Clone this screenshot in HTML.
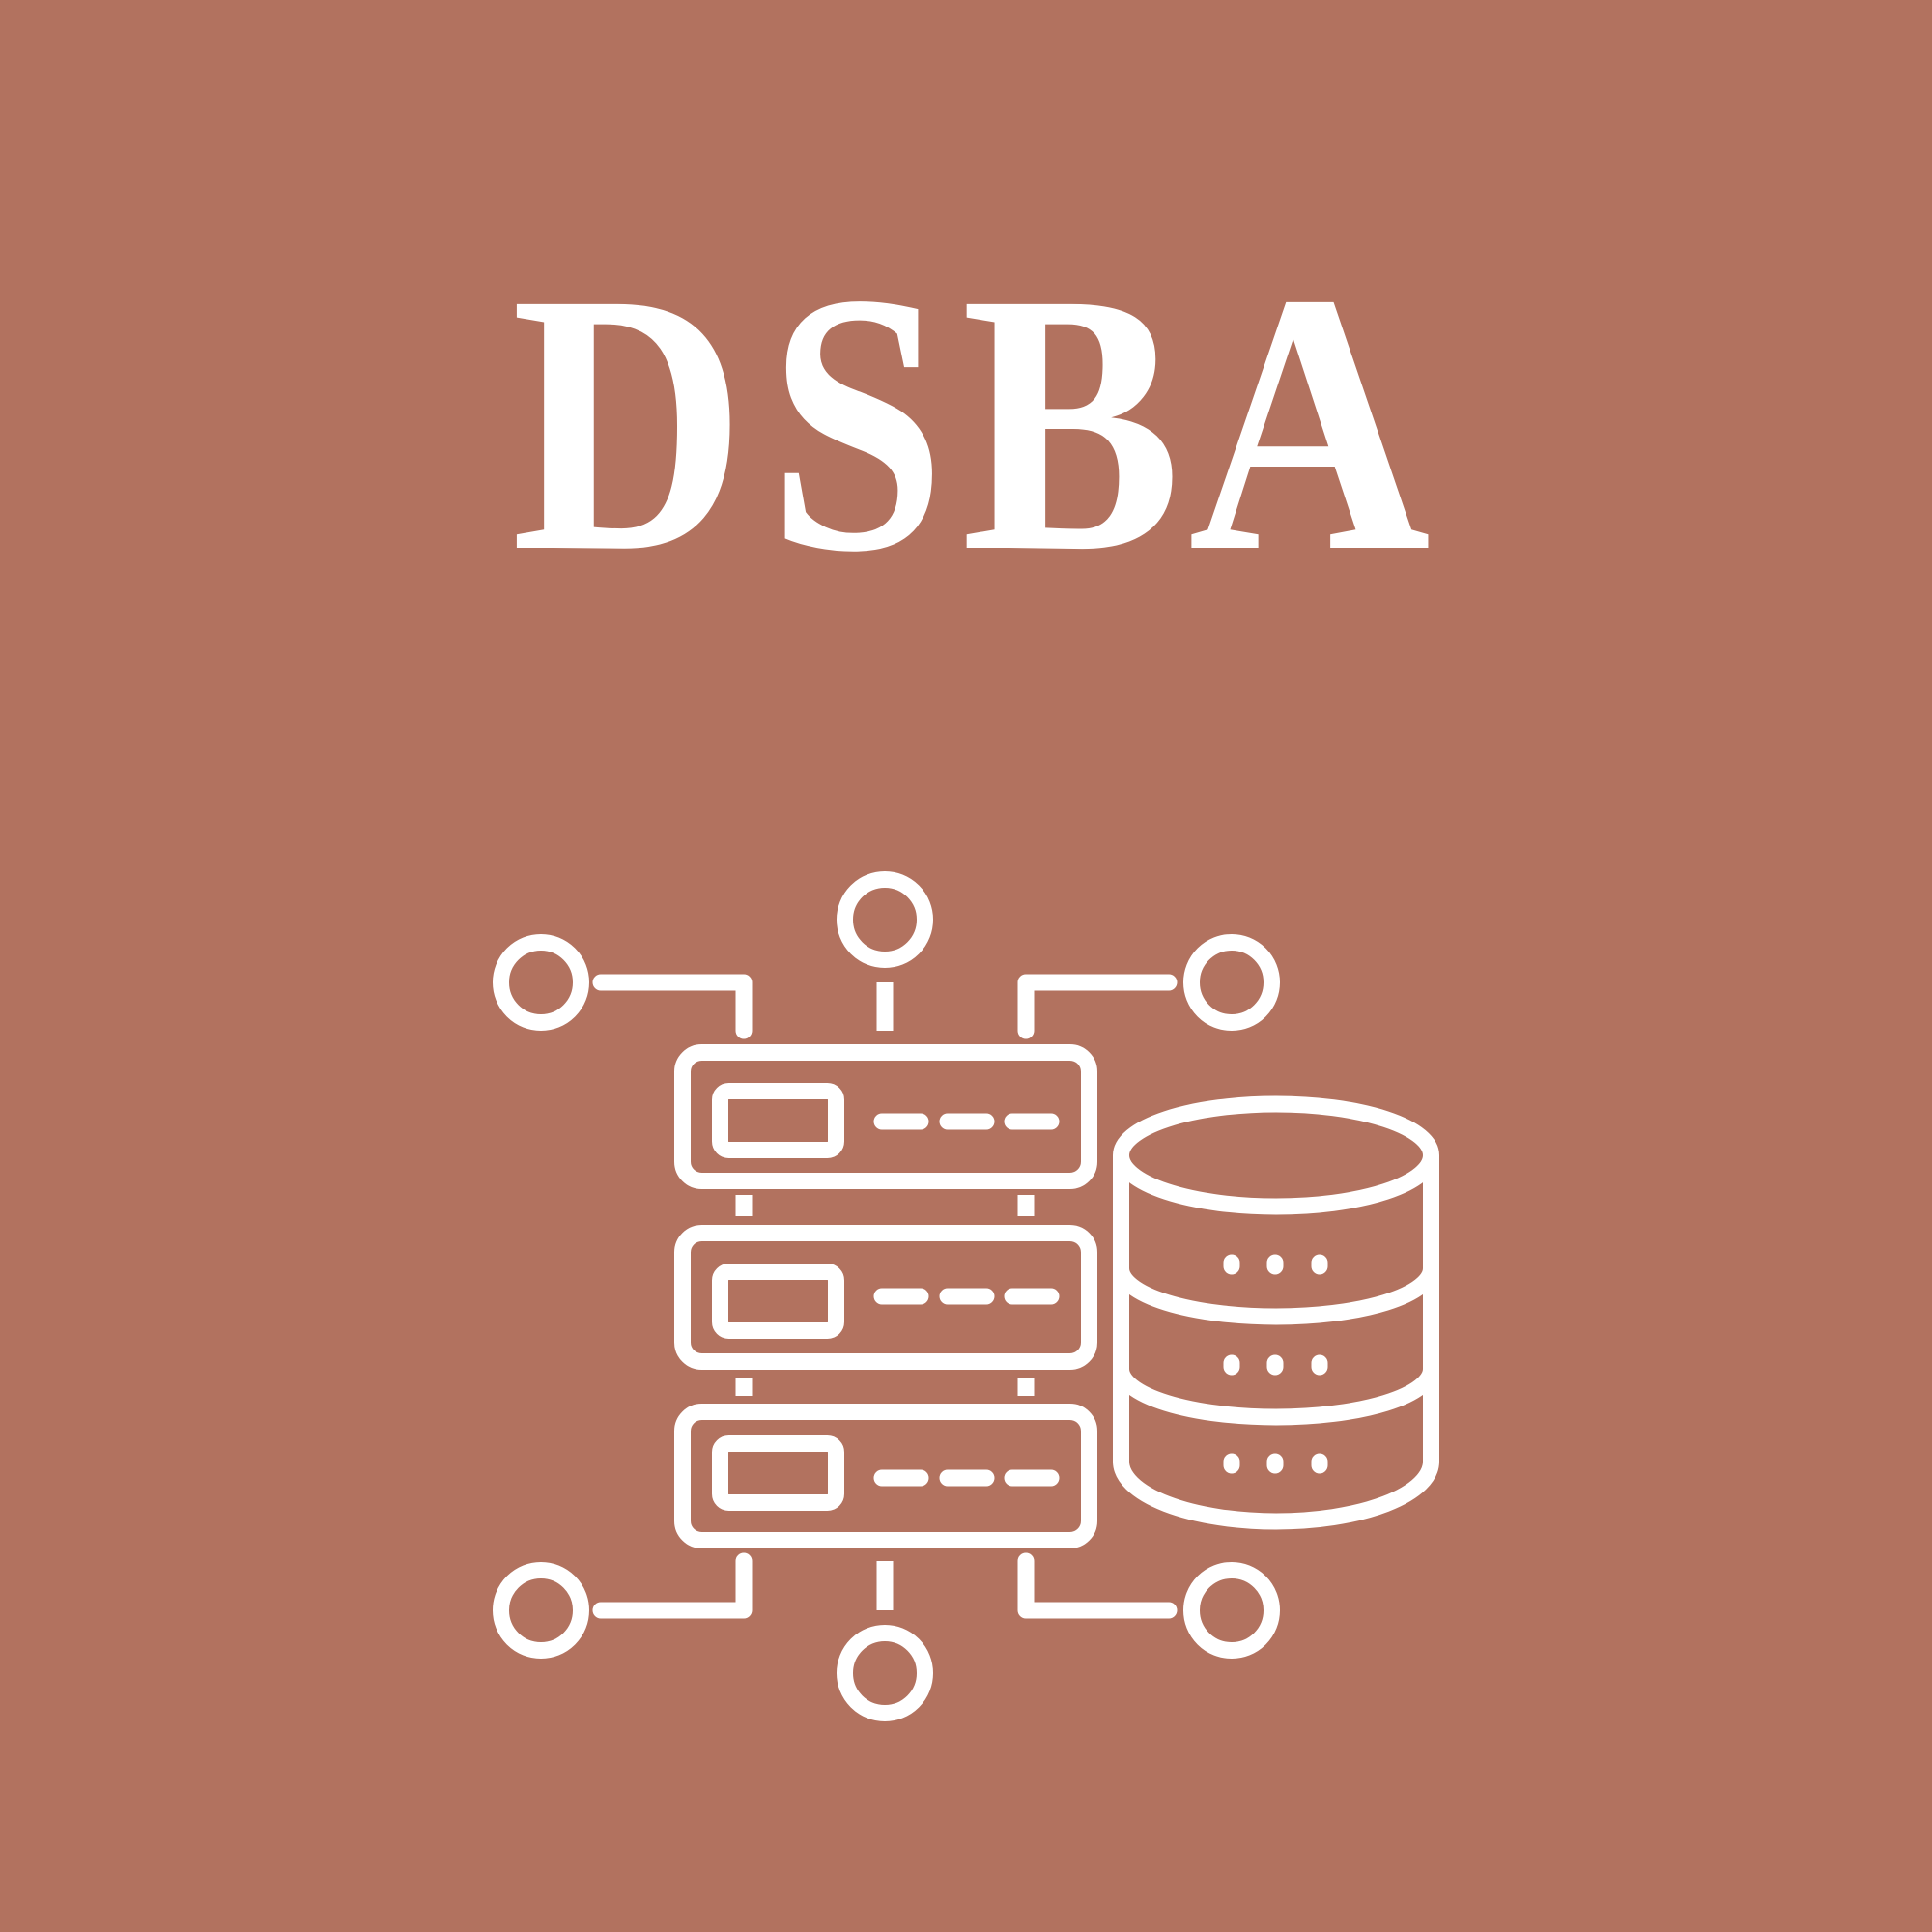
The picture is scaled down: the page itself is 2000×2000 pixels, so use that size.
<!DOCTYPE html>
<html><head><meta charset="utf-8"><style>html,body{margin:0;padding:0;background:#B2725F}svg{display:block}</style></head>
<body>
<svg width="2000" height="2000" viewBox="0 0 2000 2000" xmlns="http://www.w3.org/2000/svg">
<rect width="2000" height="2000" fill="#B2725F"/>
<g font-family="Liberation Serif, serif" font-weight="bold" font-size="385" fill="#fff">
<text x="529" y="567" textLength="243" lengthAdjust="spacingAndGlyphs">D</text>
<text x="795" y="567" textLength="184" lengthAdjust="spacingAndGlyphs">S</text>
<text x="995" y="567" textLength="228" lengthAdjust="spacingAndGlyphs">B</text>
<text x="1230" y="567" textLength="251" lengthAdjust="spacingAndGlyphs">A</text>
</g>
<g fill="none" stroke="#fff" stroke-width="17">
<circle cx="916" cy="952" r="41.5"/>
<circle cx="560" cy="1017" r="41.5"/>
<circle cx="1275" cy="1017" r="41.5"/>
<circle cx="560" cy="1667" r="41.5"/>
<circle cx="1275" cy="1667" r="41.5"/>
<circle cx="916" cy="1732" r="41.5"/>
<path d="M622 1017 H770 V1067" stroke-linejoin="round" stroke-linecap="round"/>
<path d="M1210 1017 H1062 V1067" stroke-linejoin="round" stroke-linecap="round"/>
<path d="M916 1017 V1067"/>
<path d="M622 1667 H770 V1616" stroke-linejoin="round" stroke-linecap="round"/>
<path d="M1210 1667 H1062 V1616" stroke-linejoin="round" stroke-linecap="round"/>
<path d="M916 1616 V1667"/>
<path d="M770 1237 V1259 M1062 1237 V1259 M770 1427 V1445 M1062 1427 V1445"/>
<rect x="706.5" y="1089.5" width="421" height="133" rx="20"/>
<rect x="706.5" y="1276.5" width="421" height="133" rx="20"/>
<rect x="706.5" y="1461.5" width="421" height="133" rx="20"/>
<rect x="745.5" y="1129.5" width="120" height="61" rx="9"/>
<rect x="745.5" y="1316.5" width="120" height="61" rx="9"/>
<rect x="745.5" y="1494.5" width="120" height="61" rx="9"/>
<g stroke-linecap="round">
<path d="M913 1161 H953 M981 1161 H1021 M1048 1161 H1088"/>
<path d="M913 1342 H953 M981 1342 H1021 M1048 1342 H1088"/>
<path d="M913 1530 H953 M981 1530 H1021 M1048 1530 H1088"/>
</g>
<ellipse cx="1321" cy="1196" rx="160.5" ry="53"/>
<path d="M1160.5 1196 V1513 A160.5 62 0 0 0 1481.5 1513 V1196"/>
<path d="M1160.5 1313 A160.5 50 0 0 0 1481.5 1313"/>
<path d="M1160.5 1417 A160.5 50 0 0 0 1481.5 1417"/>
<g stroke-linecap="round">
<path d="M1275 1307 V1311 M1320 1307 V1311 M1366 1307 V1311"/>
<path d="M1275 1411 V1415 M1320 1411 V1415 M1366 1411 V1415"/>
<path d="M1275 1513 V1517 M1320 1513 V1517 M1366 1513 V1517"/>
</g>
</g>
</svg>
</body></html>
